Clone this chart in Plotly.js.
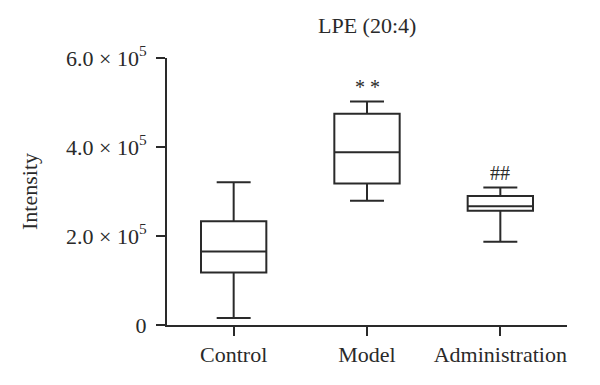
<!DOCTYPE html>
<html>
<head>
<meta charset="utf-8">
<script src="https://cdn.plot.ly/plotly-3.0.1.min.js"></script>
<style>html,body{margin:0;padding:0;background:#fff;}#chart{width:600px;height:385px;}</style>
</head>
<body>
<div id="chart"></div>
<script>
const categories = ["Control", "Model", "Administration"];
const lowerWhisker = [16000, 279000, 187000];
const q1Values = [118000, 318000, 257000];
const medianValues = [165000, 388000, 267000];
const q3Values = [233000, 475000, 290000];
const upperWhisker = [321000, 502000, 309000];
const significance = ["", "* *", "##"];
const yTickVals = [0, 200000, 400000, 600000];
const yTickText = ["0", "2.0 × 10<sup>5</sup>", "4.0 × 10<sup>5</sup>", "6.0 × 10<sup>5</sup>"];

const font = "Liberation Serif, Times New Roman, serif";
const ink = "#2a2a2a";

const trace = {
  type: "box",
  x: categories,
  q1: q1Values,
  median: medianValues,
  q3: q3Values,
  lowerfence: lowerWhisker,
  upperfence: upperWhisker,
  width: 0.49,
  whiskerwidth: 0.52,
  fillcolor: "rgba(0,0,0,0)",
  line: {color: ink, width: 2},
  boxpoints: false,
  hoverinfo: "skip",
  showlegend: false
};

const annotations = categories.map((c, i) => ({
  x: c, y: upperWhisker[i], yref: "y", xref: "x",
  text: significance[i], showarrow: false,
  yanchor: "bottom", yshift: 2,
  font: {family: font, size: 20, color: ink}
})).filter(a => a.text);

const layout = {
  width: 600, height: 385,
  margin: {l: 167, r: 33, t: 58, b: 60},
  paper_bgcolor: "#fff", plot_bgcolor: "#fff",
  title: {text: "LPE (20:4)", x: 0.612, xanchor: "center", y: 0.935, yanchor: "middle",
          font: {family: font, size: 22, color: ink}},
  xaxis: {
    type: "category", range: [-0.5, 2.5],
    showline: true, linecolor: ink, linewidth: 2,
    ticks: "outside", ticklen: 9, tickwidth: 2, tickcolor: ink,
    showgrid: false, zeroline: false,
    tickfont: {family: font, size: 22, color: ink}
  },
  yaxis: {
    range: [0, 600000],
    tickvals: yTickVals, ticktext: yTickText,
    showline: true, linecolor: ink, linewidth: 2,
    ticks: "outside", ticklen: 9, tickwidth: 2, tickcolor: ink,
    ticklabelstandoff: 5,
    showgrid: false, zeroline: false,
    tickfont: {family: font, size: 22, color: ink},
    title: {text: "Intensity", font: {family: font, size: 22, color: ink}, standoff: 22}
  },
  annotations: annotations
};

Plotly.newPlot("chart", [trace], layout, {displayModeBar: false, staticPlot: true});
</script>
</body>
</html>
